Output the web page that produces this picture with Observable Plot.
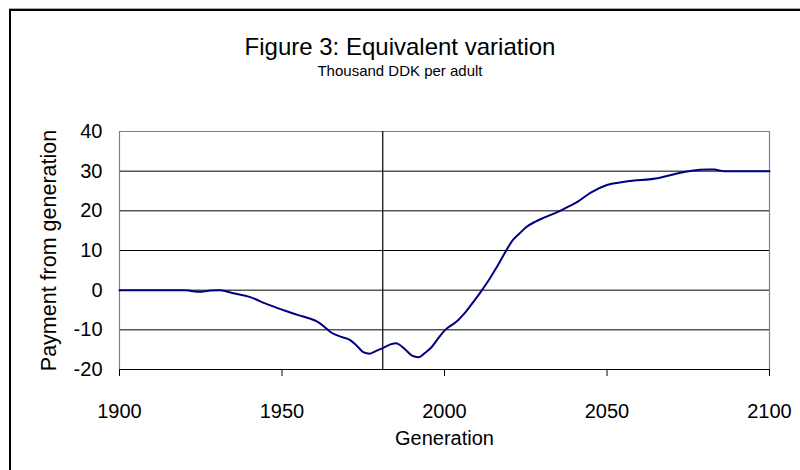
<!DOCTYPE html>
<html>
<head>
<meta charset="utf-8">
<script src="https://cdn.jsdelivr.net/npm/d3@7"></script>
<script src="https://cdn.jsdelivr.net/npm/@observablehq/plot@0.6"></script>
<style>
  html, body { margin: 0; padding: 0; background: #fff; }
  #wrap { position: relative; width: 800px; height: 470px; overflow: hidden; font-family: "Liberation Sans", Arial, sans-serif; }
  #frame { position: absolute; left: 9px; top: 9px; width: 1000px; height: 1000px; border-left: 2px solid #000; border-top: 2px solid #000; pointer-events: none; z-index: 5; }
  #frameShadow { position: absolute; left: 9px; top: 8px; width: 1000px; height: 1px; background: #aaa; z-index: 4; }
  #header { position: relative; height: 100px; }
  #title { position: absolute; left: 0; width: 800px; top: 35px; text-align: center; font-size: 24px; line-height: 1; color: #000; }
  #subtitle { position: absolute; left: 0; width: 800px; top: 63px; text-align: center; font-size: 15px; line-height: 1; color: #000; }
  #chart svg { display: block; background: transparent; }
</style>
</head>
<body>
<div id="wrap">
  <div id="frameShadow"></div>
  <div id="frame"></div>
  <div id="header">
    <div id="title"></div>
    <div id="subtitle"></div>
  </div>
  <div id="chart"></div>
</div>
<script>
const titleText = "Figure 3: Equivalent variation";
const subtitleText = "Thousand DDK per adult";
const xLabel = "Generation";
const yLabel = "Payment from generation";

const xTicks = [1900, 1950, 2000, 2050, 2100];
const yTicks = [-20, -10, 0, 10, 20, 30, 40];
const gridValues = [-10, 0, 10, 20, 30];
const axisCrossYear = [1981];

const years = [1900, 1920, 1922, 1925, 1928, 1931, 1935, 1940, 1945, 1950,
  1955, 1958, 1961, 1963, 1965, 1968, 1971, 1973, 1975, 1977,
  1979, 1981, 1984, 1985, 1988, 1990, 1992, 1994, 1996, 1998,
  2000, 2004, 2006, 2008, 2011, 2014, 2016, 2019, 2021, 2023,
  2025, 2028, 2031, 2036, 2041, 2045, 2050, 2056, 2066, 2071,
  2076, 2081, 2083, 2086, 2100];
const values = [0, 0, -0.2, -0.4, -0.1, 0, -0.8, -1.7, -3.4, -4.9,
  -6.3, -7.0, -8.0, -9.2, -10.6, -11.7, -12.6, -14.0, -15.6, -16.0,
  -15.3, -14.6, -13.5, -13.4, -15.0, -16.5, -16.9, -15.8, -14.4, -12.2,
  -10.2, -7.7, -6.0, -3.9, -0.6, 3.0, 5.7, 10.0, 12.6, 14.2,
  15.8, 17.3, 18.4, 20.2, 22.3, 24.6, 26.5, 27.4, 28.3, 29.3,
  30.1, 30.4, 30.4, 30.0, 30.0];

const data = years.map((y, i) => ({year: y, value: values[i]}));

document.getElementById("title").textContent = titleText;
document.getElementById("subtitle").textContent = subtitleText;

const chart = Plot.plot({
  width: 800,
  height: 370,
  marginTop: 31,
  marginBottom: 101,
  marginLeft: 119,
  marginRight: 31,
  style: {fontFamily: "Liberation Sans, Arial, sans-serif", fontSize: "20px", color: "#000", background: "transparent", overflow: "visible"},
  x: {domain: [1900, 2100], ticks: xTicks, tickFormat: d => String(d), tickSize: 7, tickPadding: 27, label: null},
  y: {domain: [-20, 40], ticks: yTicks, tickFormat: d => String(d), tickSize: 0, tickPadding: 17, label: null},
  marks: [
    Plot.ruleY(gridValues, {stroke: "#000", strokeWidth: 1}),
    Plot.ruleY([40], {stroke: "#808080", strokeWidth: 1.2}),
    Plot.ruleX([xTicks[0], xTicks[xTicks.length - 1]], {stroke: "#808080", strokeWidth: 1.2}),
    Plot.ruleX(axisCrossYear, {stroke: "#000", strokeWidth: 1.2}),
    Plot.ruleY([-20], {stroke: "#000", strokeWidth: 1.2}),
    Plot.line(data, {x: "year", y: "value", stroke: "#000080", strokeWidth: 2, curve: "monotone-x"}),
    Plot.text([xLabel], {frameAnchor: "bottom", lineAnchor: "bottom", textAnchor: "middle", dy: 75, fontSize: 20, fill: "#000"}),
    Plot.text([yLabel], {frameAnchor: "left", lineAnchor: "bottom", textAnchor: "middle", rotate: -90, dx: -64, fontSize: 21.5, fill: "#000"})
  ]
});
document.getElementById("chart").appendChild(chart);
</script>
</body>
</html>
